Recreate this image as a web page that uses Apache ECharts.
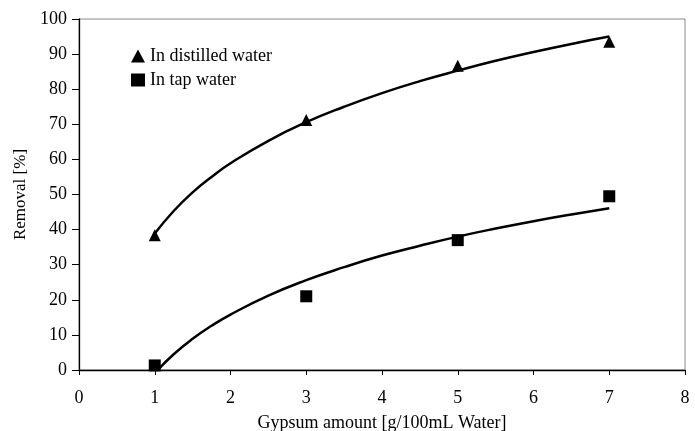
<!DOCTYPE html>
<html>
<head>
<meta charset="utf-8">
<script src="https://cdn.jsdelivr.net/npm/echarts@6/dist/echarts.min.js"></script>
<style>html,body{margin:0;padding:0;background:#fff}#c{width:695px;height:431px}</style>
</head>
<body>
<div id="c"></div>
<script>
// Measured points
const gypsum = [1, 3, 5, 7];
const distilled = [38.4, 71.2, 86.7, 93.5];
const tap = [1.3, 21, 37, 49.5];
// Trend curves
const trendX = [1, 1.25, 1.5, 1.75, 2, 2.5, 3, 3.5, 4, 4.5, 5, 5.5, 6, 6.5, 7];
const distilledTrend = [38.9, 45.3, 50.6, 55.0, 58.9, 65.3, 70.6, 75.0, 78.9, 82.3, 85.3, 88.1, 90.6, 92.9, 95.0];
const tapTrendX = [1.04, 1.25, 1.5, 1.75, 2, 2.5, 3, 3.5, 4, 4.5, 5, 5.5, 6, 6.5, 7];
const tapTrend = [0, 4.5, 8.9, 12.6, 15.8, 21.2, 25.6, 29.3, 32.6, 35.4, 38.0, 40.3, 42.4, 44.3, 46.1];
const xTicks = [0, 1, 2, 3, 4, 5, 6, 7, 8];
const yTicks = [0, 10, 20, 30, 40, 50, 60, 70, 80, 90, 100];

const font = '"Liberation Serif", "DejaVu Serif", serif';
const zip = (xs, ys) => xs.map((x, i) => [x, ys[i]]);

const chart = echarts.init(document.getElementById('c'), null, {renderer: 'canvas'});
chart.setOption({
  animation: false,
  backgroundColor: '#fff',
  textStyle: {fontFamily: font, color: '#000'},
  grid: {left: 79, right: 10, top: 19, bottom: 61, show: true, borderColor: '#888', borderWidth: 1,
         containLabel: false, outerBoundsMode: 'none'},
  legend: {
    orient: 'vertical', left: 126, top: 42, itemWidth: 14, itemHeight: 13, itemGap: 6,
    textStyle: {fontFamily: font, fontSize: 18, color: '#000'},
    itemStyle: {opacity: 1, color: '#000'},
    data: [{name: 'In distilled water', icon: 'triangle'}, {name: 'In tap water', icon: 'rect'}]
  },
  xAxis: {
    type: 'value', min: xTicks[0], max: xTicks[xTicks.length - 1], interval: 1,
    name: 'Gypsum amount [g/100mL Water]', nameLocation: 'middle', nameGap: 44,
    nameTextStyle: {fontFamily: font, fontSize: 18, color: '#000'},
    axisLine: {show: true, lineStyle: {color: '#000', width: 1.3}},
    axisTick: {show: true, inside: false, length: 5, lineStyle: {color: '#000'}},
    axisLabel: {margin: 19, fontFamily: font, fontSize: 18, color: '#000'},
    splitLine: {show: false}
  },
  yAxis: {
    type: 'value', min: yTicks[0], max: yTicks[yTicks.length - 1], interval: 10,
    name: 'Removal [%]', nameLocation: 'middle', nameGap: 44, nameRotate: 90,
    nameTextStyle: {fontFamily: font, fontSize: 17, color: '#000'},
    axisLine: {show: true, lineStyle: {color: '#000', width: 1.3}},
    axisTick: {show: true, inside: false, length: 7, lineStyle: {color: '#000'}},
    axisLabel: {margin: 12, fontFamily: font, fontSize: 18, color: '#000'},
    splitLine: {show: false}
  },
  series: [
    {type: 'line', data: zip(trendX, distilledTrend), smooth: true, showSymbol: false, symbol: 'none',
     lineStyle: {color: '#000', width: 2.5}, silent: true, z: 2},
    {type: 'line', data: zip(tapTrendX, tapTrend), smooth: true, showSymbol: false, symbol: 'none',
     lineStyle: {color: '#000', width: 2.5}, silent: true, z: 2},
    {name: 'In distilled water', type: 'scatter', data: zip(gypsum, distilled), symbol: 'triangle', symbolSize: 12,
     itemStyle: {color: '#000', opacity: 1}, z: 3},
    {name: 'In tap water', type: 'scatter', data: zip(gypsum, tap), symbol: 'rect', symbolSize: 12,
     itemStyle: {color: '#000', opacity: 1}, z: 3}
  ]
});
</script>
</body>
</html>
